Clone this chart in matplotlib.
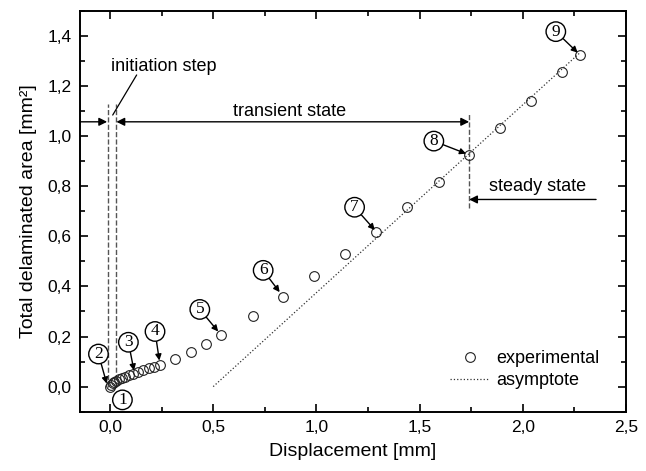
import numpy as np
import matplotlib
matplotlib.use('Agg')
import matplotlib.pyplot as plt
from matplotlib.ticker import MultipleLocator, FuncFormatter

plt.rcParams['font.family'] = ['Liberation Sans', 'DejaVu Sans']

# experimental points (displacement [mm], area [mm^2])
disp = [0.0, 0.005, 0.012, 0.02, 0.03, 0.042, 0.056, 0.072, 0.09, 0.11, 0.135,
        0.16, 0.19, 0.215, 0.242, 0.315, 0.39, 0.465, 0.54, 0.693, 0.839, 0.988,
        1.137, 1.29, 1.438, 1.592, 1.738, 1.892, 2.04, 2.188, 2.277]
area = [0.0, 0.008, 0.014, 0.019, 0.024, 0.029, 0.034, 0.040, 0.046, 0.052, 0.059,
        0.066, 0.074, 0.080, 0.086, 0.11, 0.14, 0.17, 0.207, 0.28, 0.357, 0.441,
        0.528, 0.617, 0.717, 0.817, 0.924, 1.033, 1.141, 1.255, 1.324]

# asymptote line end points
asym_x = [0.5, 2.28]
asym_y = [0.0, 1.335]

# numbered labels: (label pos) -> (arrow target)
labels = ['1', '2', '3', '4', '5', '6', '7', '8', '9']
lab_x = [0.06, -0.056, 0.089, 0.218, 0.435, 0.742, 1.185, 1.569, 2.16]
lab_y = [-0.053, 0.13, 0.177, 0.22, 0.308, 0.464, 0.716, 0.98, 1.417]
tip_x = [None, -0.016, 0.116, 0.239, 0.524, 0.822, 1.283, 1.725, 2.266]
tip_y = [None, 0.012, 0.064, 0.104, 0.22, 0.377, 0.625, 0.93, 1.333]

fig = plt.figure(figsize=(6.46, 4.71), dpi=100)
ax = fig.add_axes([0.124, 0.126, 0.845, 0.851])

ax.plot(disp, area, 'o', mfc='none', mec='#222222', mew=0.8, ms=7,
        label='experimental', zorder=3)
ax.plot(asym_x, asym_y, ':', color='#333333', lw=0.9, label='asymptote')

# numbered callouts
for i in range(len(labels)):
    bb = dict(boxstyle='circle,pad=0.1', fc='white', ec='black', lw=1.0)
    if tip_x[i] is None:
        ax.text(lab_x[i], lab_y[i], labels[i], ha='center', va='center',
                fontsize=12.5, family='Liberation Serif', bbox=bb, zorder=5)
    else:
        ax.annotate(labels[i], xy=(tip_x[i], tip_y[i]), xytext=(lab_x[i], lab_y[i]),
                    ha='center', va='center', fontsize=12.5, family='Liberation Serif',
                    bbox=bb, zorder=5,
                    arrowprops=dict(arrowstyle='-|>', color='black', lw=1.0,
                                    mutation_scale=9, shrinkA=0, shrinkB=0))

# dashed guide lines
ax.plot([-0.011, -0.011], [0.0, 1.13], '--', color='#555555', lw=1.0)
ax.plot([0.028, 0.028], [0.0, 1.13], '--', color='#555555', lw=1.0)
ax.plot([1.74, 1.74], [0.712, 1.09], '--', color='#555555', lw=1.0)

# initiation step arrows
yarr = 1.057
ax.annotate('', xy=(-0.014, yarr), xytext=(-0.145, yarr),
            arrowprops=dict(arrowstyle='-|>', color='black', lw=1.0, mutation_scale=12,
                            shrinkA=0, shrinkB=0))
ax.annotate('', xy=(0.031, yarr), xytext=(1.74, yarr),
            arrowprops=dict(arrowstyle='<|-|>', color='black', lw=1.0, mutation_scale=12,
                            shrinkA=0, shrinkB=0))
ax.annotate('', xy=(0.013, 1.084), xytext=(0.129, 1.244),
            arrowprops=dict(arrowstyle='-', color='black', lw=0.9, shrinkA=0, shrinkB=0))
ax.text(0.003, 1.276, 'initiation step', fontsize=13, ha='left', va='center')
ax.text(0.87, 1.10, 'transient state', fontsize=13, ha='center', va='center')

# steady state
ax.annotate('', xy=(1.74, 0.747), xytext=(2.355, 0.747),
            arrowprops=dict(arrowstyle='-|>', color='black', lw=1.0, mutation_scale=12,
                            shrinkA=0, shrinkB=0))
ax.text(2.07, 0.80, 'steady state', fontsize=13, ha='center', va='center')

ax.set_xlim(-0.145, 2.5)
ax.set_ylim(-0.1, 1.5)
ax.xaxis.set_major_locator(MultipleLocator(0.5))
ax.xaxis.set_minor_locator(MultipleLocator(0.25))
ax.yaxis.set_major_locator(MultipleLocator(0.2))
ax.yaxis.set_minor_locator(MultipleLocator(0.1))
fmt = FuncFormatter(lambda v, p: ('%.1f' % v).replace('.', ',').replace('-0,0', '0,0'))
ax.xaxis.set_major_formatter(fmt)
ax.yaxis.set_major_formatter(fmt)
ax.tick_params(which='both', direction='in', top=True, right=True, width=1.2,
               labelsize=12.5)
ax.tick_params(which='major', length=6, pad=6)
ax.tick_params(which='minor', length=3.5)
for s in ax.spines.values():
    s.set_linewidth(1.4)

ax.set_xlabel('Displacement [mm]', fontsize=14, labelpad=6)
ax.set_ylabel('Total delaminated area [mm²]', fontsize=14, labelpad=8)

ax.legend(loc='lower right', bbox_to_anchor=(0.982, 0.016), frameon=False, fontsize=13,
          handlelength=2.2, handletextpad=0.4, labelspacing=0.25)

fig.savefig('out.png', dpi=100)
